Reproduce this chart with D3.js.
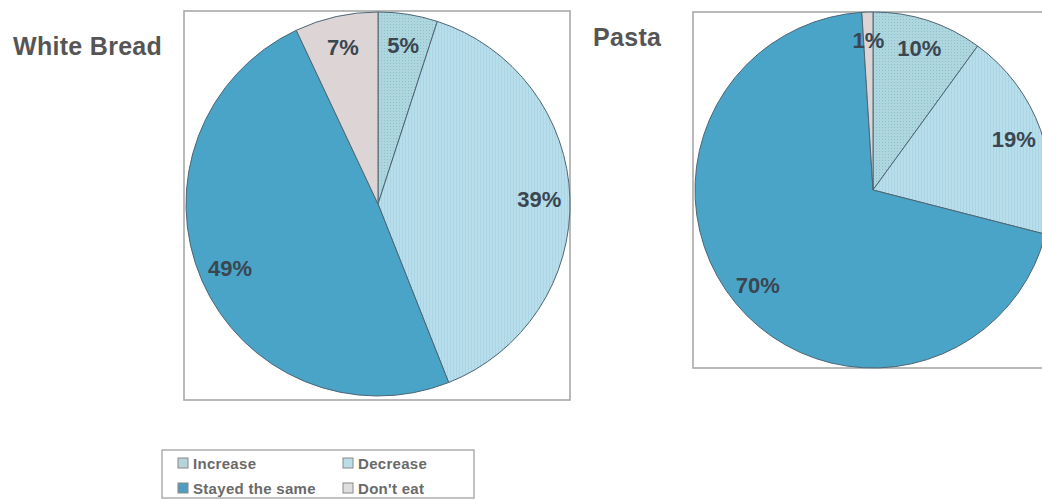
<!DOCTYPE html>
<html>
<head>
<meta charset="utf-8">
<script src="https://cdn.jsdelivr.net/npm/d3@7"></script>
<style>
  html, body { margin: 0; padding: 0; background: #fff; }
  svg { display: block; }
</style>
</head>
<body>
<div id="canvas"></div>
<script>
// answer categories, clockwise from 12 o'clock
const categories = ['Increase', 'Decrease', 'Stayed the same', "Don't eat"];
// percentages
const whiteBread = [5, 39, 49, 7];
const pasta = [10, 19, 70, 1];
const chartTitles = ['White Bread', 'Pasta'];

const colors = {
  'Increase': 'url(#dots)',
  'Decrease': 'url(#lines)',
  'Stayed the same': '#4aa4c8',
  "Don't eat": '#ddd5d5'
};
const swatchColors = ['#b7d3da', '#bcdde8', '#4e9dc0', '#dedede'];

const svg = d3.select('#canvas')
  .append('svg')
  .attr('width', 1042)
  .attr('height', 499);

// fill textures for the two light slices
const defs = svg.append('defs');
const dots = defs.append('pattern')
  .attr('id', 'dots')
  .attr('width', 3).attr('height', 3)
  .attr('patternUnits', 'userSpaceOnUse');
dots.append('rect').attr('width', 3).attr('height', 3).attr('fill', '#aed6de');
dots.append('rect').attr('width', 1).attr('height', 1).attr('fill', '#8fbfcb');
const lines = defs.append('pattern')
  .attr('id', 'lines')
  .attr('width', 3).attr('height', 3)
  .attr('patternUnits', 'userSpaceOnUse');
lines.append('rect').attr('width', 3).attr('height', 3).attr('fill', '#b8deeb');
lines.append('rect').attr('width', 1).attr('height', 3).attr('fill', '#abd5e4');

const pie = d3.pie().sort(null).value((d) => d.value);

function drawPie(values, title, box, cx, cy, r, titlePos) {
  const g = svg.append('g');
  g.append('rect')
    .attr('x', box[0]).attr('y', box[1])
    .attr('width', box[2]).attr('height', box[3])
    .attr('fill', '#fff')
    .attr('stroke', '#a8a8a8')
    .attr('stroke-width', 1.6);

  g.append('text')
    .attr('x', titlePos[0]).attr('y', titlePos[1])
    .attr('font-family', 'Liberation Sans, Arial, sans-serif')
    .attr('font-weight', 'bold')
    .attr('font-size', '25px')
    .attr('letter-spacing', '0.3px')
    .attr('fill', '#555')
    .text(title);

  const data = pie(categories.map((c, i) => ({ key: c, value: values[i] })));
  const arc = d3.arc().innerRadius(0).outerRadius(r);
  const labelArc = d3.arc().innerRadius(r * 0.84).outerRadius(r * 0.84);

  const pg = g.append('g').attr('transform', `translate(${cx},${cy})`);
  pg.selectAll('path')
    .data(data)
    .join('path')
    .attr('d', arc)
    .attr('fill', (d) => colors[d.data.key])
    .attr('stroke', '#4d6675')
    .attr('stroke-width', 1);

  pg.selectAll('text')
    .data(data)
    .join('text')
    .attr('transform', (d) => `translate(${labelArc.centroid(d)})`)
    .attr('text-anchor', 'middle')
    .attr('dy', '0.36em')
    .attr('font-family', 'Liberation Sans, Arial, sans-serif')
    .attr('font-weight', 'bold')
    .attr('font-size', '22px')
    .attr('fill', '#3a4650')
    .text((d) => `${d.data.value}%`);
}

drawPie(whiteBread, chartTitles[0], [184, 11, 386, 389], 378, 204, 192, [13, 55]);
drawPie(pasta, chartTitles[1], [693, 12, 360, 356], 873, 190, 178, [593, 46]);

// legend
const legend = svg.append('g');
legend.append('rect')
  .attr('x', 162).attr('y', 450)
  .attr('width', 312).attr('height', 48)
  .attr('fill', '#fff')
  .attr('stroke', '#a8a8a8')
  .attr('stroke-width', 1.4);

const legendPos = [[178, 458], [343, 458], [178, 483], [343, 483]];
const legendOrder = [0, 1, 2, 3];
legend.selectAll('g.item')
  .data(legendOrder)
  .join('g')
  .attr('class', 'item')
  .attr('transform', (d, i) => `translate(${legendPos[i][0]},${legendPos[i][1]})`)
  .each(function (d) {
    const item = d3.select(this);
    item.append('rect')
      .attr('width', 10).attr('height', 10)
      .attr('fill', swatchColors[d])
      .attr('stroke', '#888')
      .attr('stroke-width', 1);
    item.append('text')
      .attr('x', 15).attr('y', 11)
      .attr('font-family', 'Liberation Sans, Arial, sans-serif')
      .attr('font-weight', 'bold')
      .attr('font-size', '15px')
      .attr('letter-spacing', '0.3px')
      .attr('fill', '#6a6a6a')
      .text(categories[d]);
  });
</script>
</body>
</html>
